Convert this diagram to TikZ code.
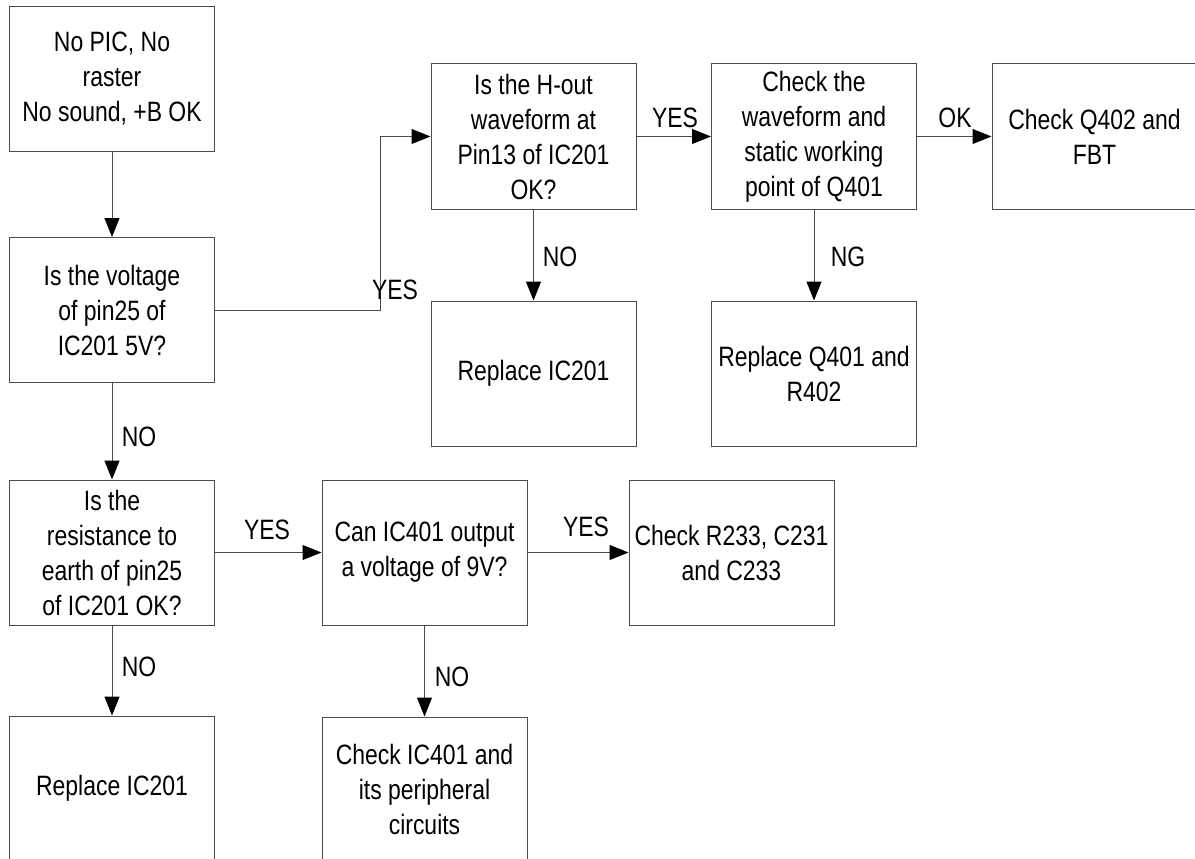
\documentclass[tikz,border=0pt]{standalone}
\usepackage{fontspec}
\setmainfont{Liberation Sans}[FakeStretch=0.82]
\usetikzlibrary{arrows.meta}
\begin{document}
\begin{tikzpicture}[x=1pt,y=-1pt,
  box/.style={draw=black!70, line width=1pt, minimum width=205pt, minimum height=145pt,
    inner sep=0pt, align=center, font=\fontsize{28}{35}\selectfont},
  lbl/.style={inner sep=0pt, font=\fontsize{28}{35}\selectfont},
  arr/.style={draw=black!70, line width=1pt, -{Triangle[length=19pt,width=15pt,color=black]}}]
\useasboundingbox (0,0) rectangle (1195,859);
\clip (0,0) rectangle (1195,859);
% boxes
\node[box] (b1) at (112,79) {No PIC, No\\raster\\No sound, +B OK};
\node[box] (b2) at (112,310) {Is the voltage\\of pin25 of\\IC201 5V?};
\node[box] (b3) at (112,552.5) {Is the\\resistance to\\earth of pin25\\of IC201 OK?};
\node[box] (b4) at (112,788.5) {Replace IC201};
\node[box] (b5) at (533.5,136.5) {Is the H-out\\waveform at\\Pin13 of IC201\\OK?};
\node[box] (b6) at (814,136.5) {Check the\\waveform and\\static working\\point of Q401};
\node[box] (b7) at (1094.5,136.5) {Check Q402 and\\FBT};
\node[box] (b8) at (533.5,373.5) {Replace IC201};
\node[box] (b9) at (814,373.5) {Replace Q401 and\\R402};
\node[box] (b10) at (424.5,552.5) {Can IC401 output\\a voltage of 9V?};
\node[box] (b11) at (731.5,552.5) {Check R233, C231\\and C233};
\node[box] (b12) at (424.5,789.5) {Check IC401 and\\its peripheral\\circuits};
% connectors
\coordinate (jy) at (380,0);
\draw[arr] (b1) -- (b2);
\draw[arr] (b2.east) -- (b2.east -| jy) |- (b5.west);
\draw[arr] (b5) -- (b6);
\draw[arr] (b6) -- (b7);
\draw[arr] (b5) -- (b8);
\draw[arr] (b6) -- (b9);
\draw[arr] (b2) -- (b3);
\draw[arr] (b3) -- (b4);
\draw[arr] (b3) -- (b10);
\draw[arr] (b10) -- (b11);
\draw[arr] (b10) -- (b12);
% labels
\node[lbl] (l1) at (395,290) {YES};
\node[lbl] (l2) at (675,118) {YES};
\node[lbl] (l3) at (955,118) {OK};
\node[lbl] (l4) at (560,257) {NO};
\node[lbl] (l5) at (848,257) {NG};
\node[lbl] (l6) at (139,437) {NO};
\node[lbl] (l7) at (267,530) {YES};
\node[lbl] (l8) at (139,667) {NO};
\node[lbl] (l9) at (586,527) {YES};
\node[lbl] (l10) at (452,677) {NO};
\end{tikzpicture}
\end{document}
